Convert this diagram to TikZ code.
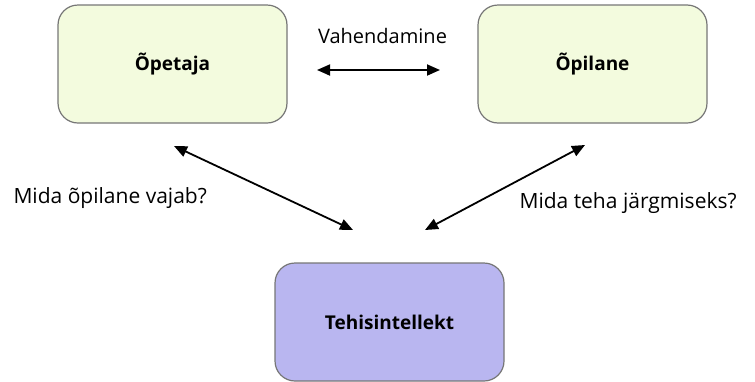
\documentclass[tikz,border=0pt]{standalone}
\usepackage{fontspec}
\setmainfont{Open Sans}
\usetikzlibrary{arrows.meta}
\definecolor{roheline}{RGB}{243,251,222}
\definecolor{lilla}{RGB}{185,182,240}
\definecolor{serv}{RGB}{118,118,118}
\begin{document}
\begin{tikzpicture}[x=1pt, y=-1pt,
        osaline/.style = {draw=serv, line width=1.2pt, rounded corners=20pt,
                minimum width=229pt, minimum height=118pt,
                font=\fontsize{19}{22}\selectfont\bfseries},
        silt/.style = {font=\fontsize{21}{25}\selectfont},
        noolega/.style = {line width=1.8pt, {Triangle[length=13pt,width=11pt]}-{Triangle[length=13pt,width=11pt]}}]
    \useasboundingbox (0,0) rectangle (755,381);
    \node[osaline, fill=roheline] (opetaja) at (172.5,64) {Õpetaja};
    \node[osaline, fill=roheline] (opilane) at (592.5,64) {Õpilane};
    \node[osaline, fill=lilla] (tehis) at (389.5,322) {Tehisintellekt};
    \node[silt, font=\fontsize{20}{24}\selectfont] (vahend) at (382.5,36) {Vahendamine};
    \node[silt, anchor=west] (vajab) at (10,198) {Mida õpilane vajab?};
    \node[silt, anchor=west] (jargmine) at (516,203) {Mida teha järgmiseks?};
    % noolte otsad
    \coordinate (v1) at (317,70);
    \coordinate (v2) at (440,70);
    \coordinate (o1) at (174,146);
    \coordinate (o2) at (353,230);
    \coordinate (p1) at (585,145);
    \coordinate (p2) at (425,230);
    \draw[noolega] (v1) -- (v2);
    \draw[noolega] (o1) -- (o2);
    \draw[noolega] (p1) -- (p2);
\end{tikzpicture}
\end{document}
